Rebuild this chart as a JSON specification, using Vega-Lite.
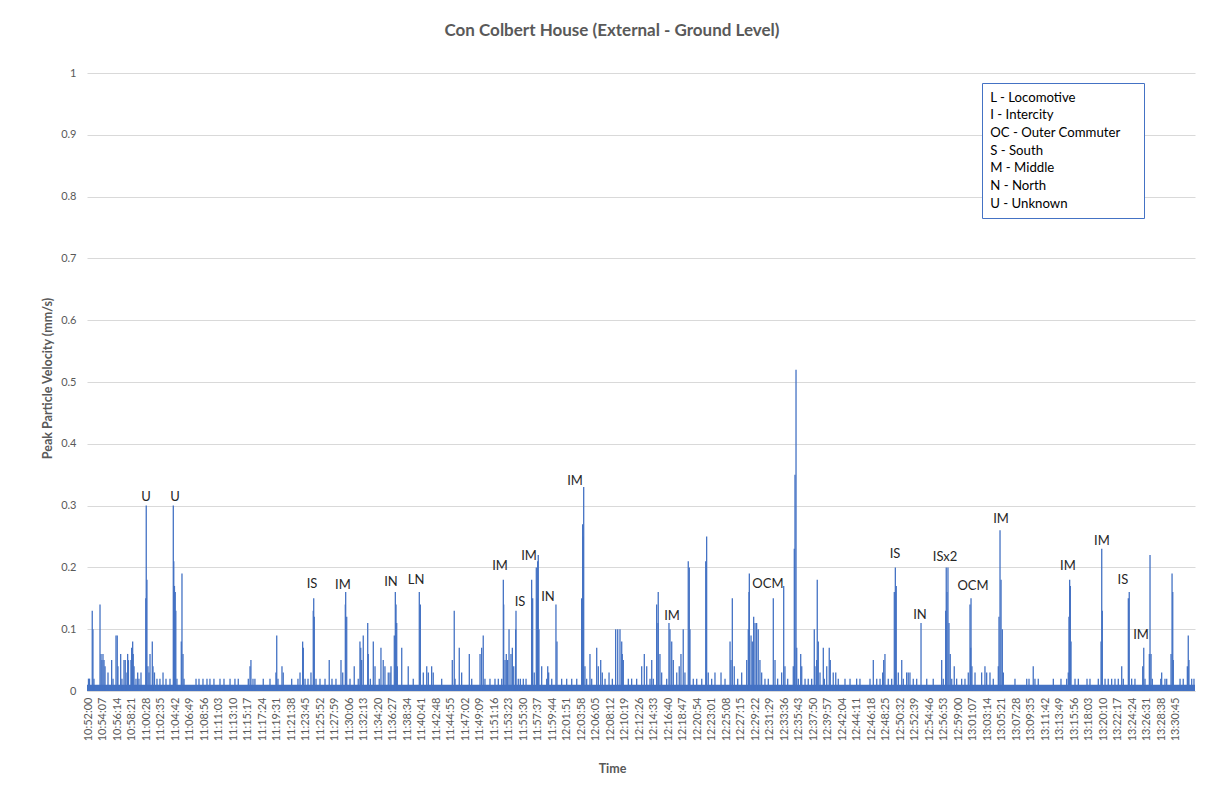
{
  "$schema": "https://vega.github.io/schema/vega-lite/v6.json",
  "width": 1108,
  "height": 618,
  "autosize": {"type": "none"},
  "padding": {"left": 87, "top": 73, "right": 12, "bottom": 103},
  "background": "white",
  "config": {"view": {"stroke": null}, "font": "Lato"},
  "title": {
    "text": "Con Colbert House (External - Ground Level)",
    "font": "Lato", "fontSize": 17, "fontWeight": "bold", "color": "#595959",
    "anchor": "middle", "frame": "group", "dx": -29, "baseline": "alphabetic", "offset": 14
  },
  "encoding": {
    "x": {
      "field": "t", "type": "temporal",
      "scale": {"domain": [{"year": 1900, "month": 1, "date": 1, "hours": 10, "minutes": 51, "seconds": 47}, {"year": 1900, "month": 1, "date": 1, "hours": 13, "minutes": 33, "seconds": 33}]},
      "axis": {
        "values": [
          {"year": 1900, "month": 1, "date": 1, "hours": 10, "minutes": 52, "seconds": 0},
          {"year": 1900, "month": 1, "date": 1, "hours": 10, "minutes": 54, "seconds": 7},
          {"year": 1900, "month": 1, "date": 1, "hours": 10, "minutes": 56, "seconds": 14},
          {"year": 1900, "month": 1, "date": 1, "hours": 10, "minutes": 58, "seconds": 21},
          {"year": 1900, "month": 1, "date": 1, "hours": 11, "minutes": 0, "seconds": 28},
          {"year": 1900, "month": 1, "date": 1, "hours": 11, "minutes": 2, "seconds": 35},
          {"year": 1900, "month": 1, "date": 1, "hours": 11, "minutes": 4, "seconds": 42},
          {"year": 1900, "month": 1, "date": 1, "hours": 11, "minutes": 6, "seconds": 49},
          {"year": 1900, "month": 1, "date": 1, "hours": 11, "minutes": 8, "seconds": 56},
          {"year": 1900, "month": 1, "date": 1, "hours": 11, "minutes": 11, "seconds": 3},
          {"year": 1900, "month": 1, "date": 1, "hours": 11, "minutes": 13, "seconds": 10},
          {"year": 1900, "month": 1, "date": 1, "hours": 11, "minutes": 15, "seconds": 17},
          {"year": 1900, "month": 1, "date": 1, "hours": 11, "minutes": 17, "seconds": 24},
          {"year": 1900, "month": 1, "date": 1, "hours": 11, "minutes": 19, "seconds": 31},
          {"year": 1900, "month": 1, "date": 1, "hours": 11, "minutes": 21, "seconds": 38},
          {"year": 1900, "month": 1, "date": 1, "hours": 11, "minutes": 23, "seconds": 45},
          {"year": 1900, "month": 1, "date": 1, "hours": 11, "minutes": 25, "seconds": 52},
          {"year": 1900, "month": 1, "date": 1, "hours": 11, "minutes": 27, "seconds": 59},
          {"year": 1900, "month": 1, "date": 1, "hours": 11, "minutes": 30, "seconds": 6},
          {"year": 1900, "month": 1, "date": 1, "hours": 11, "minutes": 32, "seconds": 13},
          {"year": 1900, "month": 1, "date": 1, "hours": 11, "minutes": 34, "seconds": 20},
          {"year": 1900, "month": 1, "date": 1, "hours": 11, "minutes": 36, "seconds": 27},
          {"year": 1900, "month": 1, "date": 1, "hours": 11, "minutes": 38, "seconds": 34},
          {"year": 1900, "month": 1, "date": 1, "hours": 11, "minutes": 40, "seconds": 41},
          {"year": 1900, "month": 1, "date": 1, "hours": 11, "minutes": 42, "seconds": 48},
          {"year": 1900, "month": 1, "date": 1, "hours": 11, "minutes": 44, "seconds": 55},
          {"year": 1900, "month": 1, "date": 1, "hours": 11, "minutes": 47, "seconds": 2},
          {"year": 1900, "month": 1, "date": 1, "hours": 11, "minutes": 49, "seconds": 9},
          {"year": 1900, "month": 1, "date": 1, "hours": 11, "minutes": 51, "seconds": 16},
          {"year": 1900, "month": 1, "date": 1, "hours": 11, "minutes": 53, "seconds": 23},
          {"year": 1900, "month": 1, "date": 1, "hours": 11, "minutes": 55, "seconds": 30},
          {"year": 1900, "month": 1, "date": 1, "hours": 11, "minutes": 57, "seconds": 37},
          {"year": 1900, "month": 1, "date": 1, "hours": 11, "minutes": 59, "seconds": 44},
          {"year": 1900, "month": 1, "date": 1, "hours": 12, "minutes": 1, "seconds": 51},
          {"year": 1900, "month": 1, "date": 1, "hours": 12, "minutes": 3, "seconds": 58},
          {"year": 1900, "month": 1, "date": 1, "hours": 12, "minutes": 6, "seconds": 5},
          {"year": 1900, "month": 1, "date": 1, "hours": 12, "minutes": 8, "seconds": 12},
          {"year": 1900, "month": 1, "date": 1, "hours": 12, "minutes": 10, "seconds": 19},
          {"year": 1900, "month": 1, "date": 1, "hours": 12, "minutes": 12, "seconds": 26},
          {"year": 1900, "month": 1, "date": 1, "hours": 12, "minutes": 14, "seconds": 33},
          {"year": 1900, "month": 1, "date": 1, "hours": 12, "minutes": 16, "seconds": 40},
          {"year": 1900, "month": 1, "date": 1, "hours": 12, "minutes": 18, "seconds": 47},
          {"year": 1900, "month": 1, "date": 1, "hours": 12, "minutes": 20, "seconds": 54},
          {"year": 1900, "month": 1, "date": 1, "hours": 12, "minutes": 23, "seconds": 1},
          {"year": 1900, "month": 1, "date": 1, "hours": 12, "minutes": 25, "seconds": 8},
          {"year": 1900, "month": 1, "date": 1, "hours": 12, "minutes": 27, "seconds": 15},
          {"year": 1900, "month": 1, "date": 1, "hours": 12, "minutes": 29, "seconds": 22},
          {"year": 1900, "month": 1, "date": 1, "hours": 12, "minutes": 31, "seconds": 29},
          {"year": 1900, "month": 1, "date": 1, "hours": 12, "minutes": 33, "seconds": 36},
          {"year": 1900, "month": 1, "date": 1, "hours": 12, "minutes": 35, "seconds": 43},
          {"year": 1900, "month": 1, "date": 1, "hours": 12, "minutes": 37, "seconds": 50},
          {"year": 1900, "month": 1, "date": 1, "hours": 12, "minutes": 39, "seconds": 57},
          {"year": 1900, "month": 1, "date": 1, "hours": 12, "minutes": 42, "seconds": 4},
          {"year": 1900, "month": 1, "date": 1, "hours": 12, "minutes": 44, "seconds": 11},
          {"year": 1900, "month": 1, "date": 1, "hours": 12, "minutes": 46, "seconds": 18},
          {"year": 1900, "month": 1, "date": 1, "hours": 12, "minutes": 48, "seconds": 25},
          {"year": 1900, "month": 1, "date": 1, "hours": 12, "minutes": 50, "seconds": 32},
          {"year": 1900, "month": 1, "date": 1, "hours": 12, "minutes": 52, "seconds": 39},
          {"year": 1900, "month": 1, "date": 1, "hours": 12, "minutes": 54, "seconds": 46},
          {"year": 1900, "month": 1, "date": 1, "hours": 12, "minutes": 56, "seconds": 53},
          {"year": 1900, "month": 1, "date": 1, "hours": 12, "minutes": 59, "seconds": 0},
          {"year": 1900, "month": 1, "date": 1, "hours": 13, "minutes": 1, "seconds": 7},
          {"year": 1900, "month": 1, "date": 1, "hours": 13, "minutes": 3, "seconds": 14},
          {"year": 1900, "month": 1, "date": 1, "hours": 13, "minutes": 5, "seconds": 21},
          {"year": 1900, "month": 1, "date": 1, "hours": 13, "minutes": 7, "seconds": 28},
          {"year": 1900, "month": 1, "date": 1, "hours": 13, "minutes": 9, "seconds": 35},
          {"year": 1900, "month": 1, "date": 1, "hours": 13, "minutes": 11, "seconds": 42},
          {"year": 1900, "month": 1, "date": 1, "hours": 13, "minutes": 13, "seconds": 49},
          {"year": 1900, "month": 1, "date": 1, "hours": 13, "minutes": 15, "seconds": 56},
          {"year": 1900, "month": 1, "date": 1, "hours": 13, "minutes": 18, "seconds": 3},
          {"year": 1900, "month": 1, "date": 1, "hours": 13, "minutes": 20, "seconds": 10},
          {"year": 1900, "month": 1, "date": 1, "hours": 13, "minutes": 22, "seconds": 17},
          {"year": 1900, "month": 1, "date": 1, "hours": 13, "minutes": 24, "seconds": 24},
          {"year": 1900, "month": 1, "date": 1, "hours": 13, "minutes": 26, "seconds": 31},
          {"year": 1900, "month": 1, "date": 1, "hours": 13, "minutes": 28, "seconds": 38},
          {"year": 1900, "month": 1, "date": 1, "hours": 13, "minutes": 30, "seconds": 45}
        ],
        "format": "%H:%M:%S",
        "labelAngle": -90, "labelFont": "Lato", "labelFontSize": 11, "labelColor": "#595959",
        "labelPadding": 6, "labelOverlap": false, "labelFlush": false, "labelBound": false,
        "ticks": false, "grid": false, "domainColor": "#d9d9d9",
        "title": "Time", "titleFont": "Lato", "titleFontSize": 12.5, "titleFontWeight": "bold", "titleColor": "#595959",
        "titleX": 525, "titleY": 77, "titleAlign": "center", "titleBaseline": "middle"
      }
    },
    "y": {
      "field": "v", "type": "quantitative",
      "scale": {"domain": [0, 1], "nice": false},
      "axis": {
        "values": [0, 0.1, 0.2, 0.3, 0.4, 0.5, 0.6, 0.7, 0.8, 0.9, 1],
        "format": "~g", "labelFont": "Lato", "labelFontSize": 11, "labelColor": "#595959", "labelPadding": 11,
        "ticks": false, "domain": false, "grid": true, "gridColor": "#d9d9d9",
        "title": "Peak Particle Velocity (mm/s)", "titleFont": "Lato", "titleFontSize": 12.5, "titleFontWeight": "bold", "titleColor": "#595959",
        "titleX": -40, "titleY": 305, "titleAngle": -90, "titleAlign": "center", "titleBaseline": "middle"
      }
    }
  },
  "layer": [
    {
      "data": {"values": [{"t": "10:51:47", "t2": "13:33:33", "v": 0.01}], "format": {"parse": {"t": "date:'%H:%M:%S'", "t2": "date:'%H:%M:%S'"}}},
      "mark": {"type": "rect", "color": "#4472C4"},
      "encoding": {
        "x2": {"field": "t2"},
        "y2": {"datum": 0}
      }
    },
    {
      "data": {
        "values": [
          {"t": "10:52:00", "v": 0.02}, {"t": "10:52:09", "v": 0.02}, {"t": "10:52:33", "v": 0.13}, {"t": "10:52:39", "v": 0.10}, {"t": "10:52:48", "v": 0.02},
          {"t": "10:53:41", "v": 0.14}, {"t": "10:53:50", "v": 0.06}, {"t": "10:53:58", "v": 0.05}, {"t": "10:54:07", "v": 0.06}, {"t": "10:54:16", "v": 0.05},
          {"t": "10:54:25", "v": 0.04}, {"t": "10:54:51", "v": 0.03}, {"t": "10:55:23", "v": 0.05}, {"t": "10:55:35", "v": 0.02}, {"t": "10:56:01", "v": 0.09},
          {"t": "10:56:12", "v": 0.09}, {"t": "10:56:18", "v": 0.04}, {"t": "10:56:42", "v": 0.06}, {"t": "10:56:53", "v": 0.02}, {"t": "10:57:11", "v": 0.05},
          {"t": "10:57:22", "v": 0.05}, {"t": "10:57:37", "v": 0.03}, {"t": "10:57:43", "v": 0.06}, {"t": "10:57:50", "v": 0.05}, {"t": "10:58:12", "v": 0.05},
          {"t": "10:58:18", "v": 0.07}, {"t": "10:58:27", "v": 0.08}, {"t": "10:58:32", "v": 0.06}, {"t": "10:58:39", "v": 0.04}, {"t": "10:58:56", "v": 0.02},
          {"t": "10:59:11", "v": 0.03}, {"t": "10:59:22", "v": 0.02}, {"t": "10:59:40", "v": 0.03}, {"t": "11:00:22", "v": 0.15}, {"t": "11:00:26", "v": 0.30},
          {"t": "11:00:32", "v": 0.18}, {"t": "11:00:41", "v": 0.04}, {"t": "11:00:50", "v": 0.03}, {"t": "11:00:59", "v": 0.06}, {"t": "11:01:19", "v": 0.08},
          {"t": "11:01:25", "v": 0.04}, {"t": "11:01:38", "v": 0.03}, {"t": "11:02:00", "v": 0.02}, {"t": "11:02:26", "v": 0.02}, {"t": "11:02:53", "v": 0.03},
          {"t": "11:03:19", "v": 0.02}, {"t": "11:03:54", "v": 0.02}, {"t": "11:04:23", "v": 0.30}, {"t": "11:04:27", "v": 0.21}, {"t": "11:04:33", "v": 0.17},
          {"t": "11:04:40", "v": 0.16}, {"t": "11:04:45", "v": 0.13}, {"t": "11:04:55", "v": 0.02}, {"t": "11:05:33", "v": 0.08}, {"t": "11:05:39", "v": 0.19},
          {"t": "11:05:48", "v": 0.06}, {"t": "11:05:57", "v": 0.02}, {"t": "11:07:42", "v": 0.02}, {"t": "11:08:08", "v": 0.02}, {"t": "11:08:43", "v": 0.02},
          {"t": "11:09:18", "v": 0.02}, {"t": "11:09:44", "v": 0.02}, {"t": "11:10:19", "v": 0.02}, {"t": "11:11:12", "v": 0.02}, {"t": "11:11:47", "v": 0.02},
          {"t": "11:12:40", "v": 0.02}, {"t": "11:13:23", "v": 0.02}, {"t": "11:13:52", "v": 0.02}, {"t": "11:15:20", "v": 0.02}, {"t": "11:15:35", "v": 0.04},
          {"t": "11:15:43", "v": 0.05}, {"t": "11:16:01", "v": 0.02}, {"t": "11:16:18", "v": 0.02}, {"t": "11:17:31", "v": 0.02}, {"t": "11:18:30", "v": 0.02},
          {"t": "11:19:22", "v": 0.03}, {"t": "11:19:29", "v": 0.09}, {"t": "11:19:40", "v": 0.02}, {"t": "11:20:15", "v": 0.04}, {"t": "11:20:26", "v": 0.03},
          {"t": "11:21:40", "v": 0.02}, {"t": "11:22:35", "v": 0.02}, {"t": "11:22:53", "v": 0.03}, {"t": "11:23:16", "v": 0.08}, {"t": "11:23:22", "v": 0.07},
          {"t": "11:23:37", "v": 0.02}, {"t": "11:24:03", "v": 0.02}, {"t": "11:24:29", "v": 0.03}, {"t": "11:24:49", "v": 0.13}, {"t": "11:24:53", "v": 0.15},
          {"t": "11:24:58", "v": 0.12}, {"t": "11:25:13", "v": 0.02}, {"t": "11:25:48", "v": 0.02}, {"t": "11:26:32", "v": 0.02}, {"t": "11:27:09", "v": 0.05},
          {"t": "11:27:33", "v": 0.02}, {"t": "11:28:08", "v": 0.02}, {"t": "11:28:52", "v": 0.05}, {"t": "11:29:07", "v": 0.03}, {"t": "11:29:30", "v": 0.14},
          {"t": "11:29:33", "v": 0.16}, {"t": "11:29:42", "v": 0.12}, {"t": "11:30:11", "v": 0.02}, {"t": "11:30:48", "v": 0.04}, {"t": "11:31:23", "v": 0.02},
          {"t": "11:31:38", "v": 0.08}, {"t": "11:31:45", "v": 0.07}, {"t": "11:31:53", "v": 0.05}, {"t": "11:32:07", "v": 0.09}, {"t": "11:32:46", "v": 0.11},
          {"t": "11:32:51", "v": 0.06}, {"t": "11:33:09", "v": 0.02}, {"t": "11:33:35", "v": 0.08}, {"t": "11:33:50", "v": 0.04}, {"t": "11:34:27", "v": 0.02},
          {"t": "11:34:42", "v": 0.07}, {"t": "11:35:02", "v": 0.05}, {"t": "11:35:17", "v": 0.04}, {"t": "11:35:46", "v": 0.03}, {"t": "11:36:01", "v": 0.03},
          {"t": "11:36:10", "v": 0.04}, {"t": "11:36:39", "v": 0.09}, {"t": "11:36:48", "v": 0.16}, {"t": "11:36:54", "v": 0.14}, {"t": "11:37:00", "v": 0.11},
          {"t": "11:37:05", "v": 0.04}, {"t": "11:37:44", "v": 0.07}, {"t": "11:38:41", "v": 0.04}, {"t": "11:39:25", "v": 0.02}, {"t": "11:40:18", "v": 0.16},
          {"t": "11:40:27", "v": 0.14}, {"t": "11:40:53", "v": 0.03}, {"t": "11:41:23", "v": 0.04}, {"t": "11:41:37", "v": 0.03}, {"t": "11:42:06", "v": 0.04},
          {"t": "11:42:20", "v": 0.03}, {"t": "11:43:34", "v": 0.02}, {"t": "11:45:07", "v": 0.05}, {"t": "11:45:24", "v": 0.13}, {"t": "11:45:31", "v": 0.02},
          {"t": "11:46:08", "v": 0.07}, {"t": "11:46:29", "v": 0.03}, {"t": "11:47:36", "v": 0.06}, {"t": "11:47:57", "v": 0.02}, {"t": "11:49:10", "v": 0.06},
          {"t": "11:49:24", "v": 0.07}, {"t": "11:49:38", "v": 0.09}, {"t": "11:49:53", "v": 0.02}, {"t": "11:50:37", "v": 0.02}, {"t": "11:51:21", "v": 0.02},
          {"t": "11:51:50", "v": 0.02}, {"t": "11:52:20", "v": 0.02}, {"t": "11:52:34", "v": 0.18}, {"t": "11:52:37", "v": 0.14}, {"t": "11:52:49", "v": 0.05},
          {"t": "11:53:00", "v": 0.06}, {"t": "11:53:12", "v": 0.05}, {"t": "11:53:24", "v": 0.10}, {"t": "11:53:41", "v": 0.06}, {"t": "11:53:53", "v": 0.07},
          {"t": "11:54:05", "v": 0.04}, {"t": "11:54:22", "v": 0.10}, {"t": "11:54:25", "v": 0.13}, {"t": "11:54:45", "v": 0.02}, {"t": "11:55:03", "v": 0.02},
          {"t": "11:55:29", "v": 0.02}, {"t": "11:55:53", "v": 0.02}, {"t": "11:56:42", "v": 0.18}, {"t": "11:56:51", "v": 0.15}, {"t": "11:57:05", "v": 0.03},
          {"t": "11:57:23", "v": 0.20}, {"t": "11:57:32", "v": 0.15}, {"t": "11:57:35", "v": 0.21}, {"t": "11:57:40", "v": 0.22}, {"t": "11:57:46", "v": 0.10},
          {"t": "11:58:10", "v": 0.04}, {"t": "11:58:54", "v": 0.02}, {"t": "11:59:03", "v": 0.04}, {"t": "11:59:11", "v": 0.03}, {"t": "11:59:38", "v": 0.02},
          {"t": "12:00:15", "v": 0.14}, {"t": "12:00:24", "v": 0.08}, {"t": "12:01:05", "v": 0.02}, {"t": "12:01:49", "v": 0.02}, {"t": "12:02:33", "v": 0.02},
          {"t": "12:03:17", "v": 0.02}, {"t": "12:04:00", "v": 0.15}, {"t": "12:04:09", "v": 0.27}, {"t": "12:04:14", "v": 0.25}, {"t": "12:04:18", "v": 0.33},
          {"t": "12:04:29", "v": 0.04}, {"t": "12:04:44", "v": 0.02}, {"t": "12:05:13", "v": 0.06}, {"t": "12:05:28", "v": 0.02}, {"t": "12:06:12", "v": 0.07},
          {"t": "12:06:26", "v": 0.04}, {"t": "12:06:47", "v": 0.05}, {"t": "12:07:01", "v": 0.03}, {"t": "12:07:25", "v": 0.02}, {"t": "12:08:00", "v": 0.03},
          {"t": "12:08:29", "v": 0.02}, {"t": "12:08:58", "v": 0.10}, {"t": "12:09:16", "v": 0.10}, {"t": "12:09:36", "v": 0.10}, {"t": "12:09:51", "v": 0.08},
          {"t": "12:09:56", "v": 0.06}, {"t": "12:10:05", "v": 0.05}, {"t": "12:10:49", "v": 0.02}, {"t": "12:11:18", "v": 0.02}, {"t": "12:12:02", "v": 0.02},
          {"t": "12:12:46", "v": 0.04}, {"t": "12:13:09", "v": 0.06}, {"t": "12:13:30", "v": 0.04}, {"t": "12:13:59", "v": 0.02}, {"t": "12:14:14", "v": 0.05},
          {"t": "12:14:28", "v": 0.02}, {"t": "12:14:57", "v": 0.14}, {"t": "12:15:09", "v": 0.11}, {"t": "12:15:11", "v": 0.16}, {"t": "12:15:26", "v": 0.06},
          {"t": "12:15:41", "v": 0.03}, {"t": "12:16:25", "v": 0.02}, {"t": "12:16:45", "v": 0.11}, {"t": "12:16:54", "v": 0.10}, {"t": "12:17:09", "v": 0.08},
          {"t": "12:17:23", "v": 0.05}, {"t": "12:17:53", "v": 0.03}, {"t": "12:18:15", "v": 0.04}, {"t": "12:18:30", "v": 0.06}, {"t": "12:18:50", "v": 0.10},
          {"t": "12:19:05", "v": 0.03}, {"t": "12:19:34", "v": 0.21}, {"t": "12:19:43", "v": 0.20}, {"t": "12:19:49", "v": 0.10}, {"t": "12:20:18", "v": 0.02},
          {"t": "12:20:48", "v": 0.02}, {"t": "12:21:32", "v": 0.02}, {"t": "12:22:07", "v": 0.21}, {"t": "12:22:15", "v": 0.25}, {"t": "12:22:29", "v": 0.03},
          {"t": "12:22:59", "v": 0.02}, {"t": "12:23:28", "v": 0.03}, {"t": "12:24:21", "v": 0.03}, {"t": "12:24:56", "v": 0.02}, {"t": "12:25:40", "v": 0.08},
          {"t": "12:25:48", "v": 0.05}, {"t": "12:26:00", "v": 0.15}, {"t": "12:26:17", "v": 0.04}, {"t": "12:26:47", "v": 0.02}, {"t": "12:27:22", "v": 0.03},
          {"t": "12:28:06", "v": 0.05}, {"t": "12:28:20", "v": 0.10}, {"t": "12:28:26", "v": 0.16}, {"t": "12:28:29", "v": 0.19}, {"t": "12:28:44", "v": 0.09},
          {"t": "12:28:55", "v": 0.08}, {"t": "12:29:07", "v": 0.12}, {"t": "12:29:19", "v": 0.11}, {"t": "12:29:33", "v": 0.11}, {"t": "12:29:47", "v": 0.10},
          {"t": "12:30:02", "v": 0.05}, {"t": "12:30:17", "v": 0.03}, {"t": "12:30:46", "v": 0.02}, {"t": "12:31:15", "v": 0.02}, {"t": "12:31:59", "v": 0.15},
          {"t": "12:32:14", "v": 0.05}, {"t": "12:32:37", "v": 0.02}, {"t": "12:33:12", "v": 0.03}, {"t": "12:33:30", "v": 0.17}, {"t": "12:33:41", "v": 0.04},
          {"t": "12:34:05", "v": 0.02}, {"t": "12:34:54", "v": 0.04}, {"t": "12:35:03", "v": 0.23}, {"t": "12:35:09", "v": 0.35}, {"t": "12:35:18", "v": 0.52},
          {"t": "12:35:24", "v": 0.07}, {"t": "12:35:38", "v": 0.02}, {"t": "12:35:59", "v": 0.06}, {"t": "12:36:08", "v": 0.04}, {"t": "12:36:37", "v": 0.02},
          {"t": "12:37:05", "v": 0.02}, {"t": "12:37:35", "v": 0.02}, {"t": "12:37:58", "v": 0.10}, {"t": "12:38:04", "v": 0.04}, {"t": "12:38:19", "v": 0.05},
          {"t": "12:38:24", "v": 0.18}, {"t": "12:38:33", "v": 0.08}, {"t": "12:38:48", "v": 0.03}, {"t": "12:39:17", "v": 0.07}, {"t": "12:39:26", "v": 0.02},
          {"t": "12:39:47", "v": 0.04}, {"t": "12:40:09", "v": 0.07}, {"t": "12:40:18", "v": 0.05}, {"t": "12:40:44", "v": 0.03}, {"t": "12:41:06", "v": 0.03},
          {"t": "12:41:28", "v": 0.02}, {"t": "12:42:27", "v": 0.02}, {"t": "12:43:11", "v": 0.02}, {"t": "12:44:09", "v": 0.02}, {"t": "12:44:38", "v": 0.02},
          {"t": "12:46:06", "v": 0.02}, {"t": "12:46:35", "v": 0.05}, {"t": "12:47:05", "v": 0.02}, {"t": "12:47:34", "v": 0.02}, {"t": "12:47:57", "v": 0.03},
          {"t": "12:48:06", "v": 0.05}, {"t": "12:48:17", "v": 0.06}, {"t": "12:48:46", "v": 0.02}, {"t": "12:49:16", "v": 0.02}, {"t": "12:49:39", "v": 0.16},
          {"t": "12:49:48", "v": 0.20}, {"t": "12:49:56", "v": 0.17}, {"t": "12:50:14", "v": 0.03}, {"t": "12:50:44", "v": 0.05}, {"t": "12:50:58", "v": 0.02},
          {"t": "12:51:27", "v": 0.03}, {"t": "12:51:41", "v": 0.03}, {"t": "12:51:56", "v": 0.03}, {"t": "12:52:25", "v": 0.02}, {"t": "12:52:55", "v": 0.02},
          {"t": "12:53:33", "v": 0.11}, {"t": "12:54:23", "v": 0.02}, {"t": "12:55:20", "v": 0.02}, {"t": "12:56:34", "v": 0.05}, {"t": "12:56:48", "v": 0.02},
          {"t": "12:57:09", "v": 0.13}, {"t": "12:57:14", "v": 0.20}, {"t": "12:57:20", "v": 0.16}, {"t": "12:57:29", "v": 0.20}, {"t": "12:57:38", "v": 0.11},
          {"t": "12:57:49", "v": 0.06}, {"t": "12:58:02", "v": 0.02}, {"t": "12:58:24", "v": 0.04}, {"t": "12:58:45", "v": 0.02}, {"t": "12:59:29", "v": 0.02},
          {"t": "12:59:58", "v": 0.02}, {"t": "13:00:27", "v": 0.03}, {"t": "13:00:42", "v": 0.14}, {"t": "13:00:48", "v": 0.07}, {"t": "13:00:51", "v": 0.15},
          {"t": "13:00:59", "v": 0.04}, {"t": "13:01:26", "v": 0.03}, {"t": "13:02:24", "v": 0.03}, {"t": "13:02:53", "v": 0.04}, {"t": "13:03:08", "v": 0.03},
          {"t": "13:03:37", "v": 0.03}, {"t": "13:04:06", "v": 0.02}, {"t": "13:04:50", "v": 0.04}, {"t": "13:04:56", "v": 0.12}, {"t": "13:05:05", "v": 0.26},
          {"t": "13:05:14", "v": 0.18}, {"t": "13:05:25", "v": 0.10}, {"t": "13:05:34", "v": 0.03}, {"t": "13:07:16", "v": 0.02}, {"t": "13:08:59", "v": 0.02},
          {"t": "13:09:19", "v": 0.02}, {"t": "13:09:56", "v": 0.04}, {"t": "13:10:11", "v": 0.02}, {"t": "13:10:40", "v": 0.02}, {"t": "13:12:52", "v": 0.02},
          {"t": "13:13:59", "v": 0.02}, {"t": "13:14:49", "v": 0.02}, {"t": "13:15:03", "v": 0.03}, {"t": "13:15:09", "v": 0.12}, {"t": "13:15:15", "v": 0.18},
          {"t": "13:15:21", "v": 0.17}, {"t": "13:15:27", "v": 0.08}, {"t": "13:16:02", "v": 0.02}, {"t": "13:16:31", "v": 0.02}, {"t": "13:17:47", "v": 0.02},
          {"t": "13:18:13", "v": 0.02}, {"t": "13:19:26", "v": 0.02}, {"t": "13:19:50", "v": 0.08}, {"t": "13:19:56", "v": 0.23}, {"t": "13:20:01", "v": 0.13},
          {"t": "13:20:25", "v": 0.02}, {"t": "13:20:53", "v": 0.02}, {"t": "13:21:23", "v": 0.02}, {"t": "13:21:52", "v": 0.02}, {"t": "13:22:21", "v": 0.02},
          {"t": "13:22:51", "v": 0.04}, {"t": "13:23:05", "v": 0.02}, {"t": "13:23:49", "v": 0.15}, {"t": "13:23:57", "v": 0.16}, {"t": "13:24:18", "v": 0.02},
          {"t": "13:24:47", "v": 0.02}, {"t": "13:25:55", "v": 0.04}, {"t": "13:26:04", "v": 0.07}, {"t": "13:26:15", "v": 0.02}, {"t": "13:26:53", "v": 0.06},
          {"t": "13:26:59", "v": 0.22}, {"t": "13:27:08", "v": 0.06}, {"t": "13:27:19", "v": 0.02}, {"t": "13:28:33", "v": 0.02}, {"t": "13:28:41", "v": 0.03},
          {"t": "13:29:10", "v": 0.02}, {"t": "13:29:25", "v": 0.02}, {"t": "13:30:03", "v": 0.06}, {"t": "13:30:12", "v": 0.19}, {"t": "13:30:18", "v": 0.16},
          {"t": "13:30:23", "v": 0.05}, {"t": "13:31:22", "v": 0.02}, {"t": "13:31:50", "v": 0.02}, {"t": "13:32:26", "v": 0.04}, {"t": "13:32:34", "v": 0.09},
          {"t": "13:32:40", "v": 0.05}, {"t": "13:33:04", "v": 0.02}, {"t": "13:33:24", "v": 0.02}
        ],
        "format": {"parse": {"t": "date:'%H:%M:%S'"}}
      },
      "mark": {"type": "rule", "color": "#4472C4", "strokeWidth": 1.3},
      "encoding": {
        "y2": {"datum": 0}
      }
    },
    {
      "data": {
        "values": [
          {"t": "11:00:24", "v": 0.314, "label": "U"},
          {"t": "11:04:38", "v": 0.314, "label": "U"},
          {"t": "11:24:38", "v": 0.173, "label": "IS"},
          {"t": "11:29:09", "v": 0.172, "label": "IM"},
          {"t": "11:36:10", "v": 0.176, "label": "IN"},
          {"t": "11:39:49", "v": 0.180, "label": "LN"},
          {"t": "11:52:05", "v": 0.202, "label": "IM"},
          {"t": "11:55:00", "v": 0.144, "label": "IS"},
          {"t": "11:56:19", "v": 0.218, "label": "IM"},
          {"t": "11:59:05", "v": 0.152, "label": "IN"},
          {"t": "12:03:02", "v": 0.340, "label": "IM"},
          {"t": "12:17:12", "v": 0.121, "label": "IM"},
          {"t": "12:31:12", "v": 0.173, "label": "OCM"},
          {"t": "12:49:45", "v": 0.222, "label": "IS"},
          {"t": "12:53:24", "v": 0.123, "label": "IN"},
          {"t": "12:57:03", "v": 0.217, "label": "ISx2"},
          {"t": "13:01:08", "v": 0.170, "label": "OCM"},
          {"t": "13:05:14", "v": 0.278, "label": "IM"},
          {"t": "13:15:00", "v": 0.202, "label": "IM"},
          {"t": "13:19:58", "v": 0.243, "label": "IM"},
          {"t": "13:23:02", "v": 0.180, "label": "IS"},
          {"t": "13:25:40", "v": 0.091, "label": "IM"}
        ],
        "format": {"parse": {"t": "date:'%H:%M:%S'"}}
      },
      "mark": {"type": "text", "font": "Lato", "fontSize": 13, "color": "#262626", "align": "center", "baseline": "middle"},
      "encoding": {
        "text": {"field": "label", "type": "nominal"}
      }
    },
    {
      "data": {
        "values": [
          {"key": "L - Locomotive"}, {"key": "I - Intercity"}, {"key": "OC - Outer Commuter"},
          {"key": "S - South"}, {"key": "M - Middle"}, {"key": "N - North"}, {"key": "U - Unknown"}
        ]
      },
      "mark": {"type": "point", "opacity": 0},
      "encoding": {
        "color": {
          "field": "key", "type": "nominal",
          "scale": {"domain": ["L - Locomotive", "I - Intercity", "OC - Outer Commuter", "S - South", "M - Middle", "N - North", "U - Unknown"], "range": ["#ffffff"]},
          "legend": {
            "orient": "none", "legendX": 895, "legendY": 10,
            "title": "\u00a0", "titleOrient": "right", "titlePadding": 15, "titleFontSize": 13, "titleColor": "#ffffff",
            "symbolType": "square", "symbolSize": 1, "symbolOpacity": 0, "symbolStrokeWidth": 0,
            "symbolFillColor": "transparent", "symbolStrokeColor": "transparent",
            "labelOffset": -13, "labelFont": "Lato", "labelFontSize": 13.2, "labelColor": "#000000", "labelLimit": 400,
            "padding": 8, "rowPadding": 3.7, "strokeColor": "#4472C4", "fillColor": "#ffffff"
          }
        }
      }
    }
  ]
}
